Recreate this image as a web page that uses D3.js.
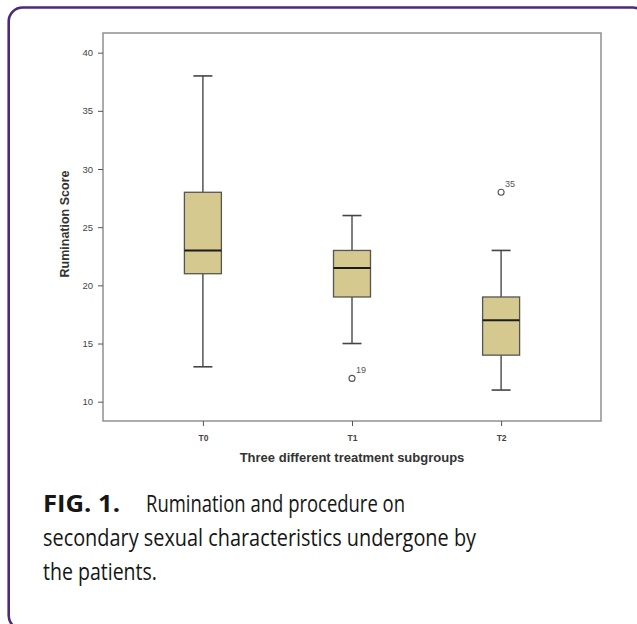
<!DOCTYPE html>
<html>
<head>
<meta charset="utf-8">
<title>Rumination box plot</title>
<script src="https://cdn.jsdelivr.net/npm/d3@7/dist/d3.min.js"></script>
<style>
  body { margin: 0; background: #fff; }
  svg { display: block; }
</style>
</head>
<body>
<script>

// data
var groups = ["T0", "T1", "T2"];
var whiskerLow = [13, 15, 11];
var q1 = [21, 19, 14];
var median = [23, 21.5, 17];
var q3 = [28, 23, 19];
var whiskerHigh = [38, 26, 23];

var outlierGroup = ["T1", "T2"];
var outlierValue = [12, 28];
var outlierLabel = ["19", "35"];

var yTicks = [10, 15, 20, 25, 30, 35, 40];

var width = 637, height = 624;
var plot = {left: 103, right: 601, top: 33, bottom: 421};

var svg = d3.select("body").append("svg")
    .attr("width", width)
    .attr("height", height);

// card frame
svg.append("rect")
    .attr("x", 8.7).attr("y", 7.5)
    .attr("width", 638).attr("height", 622)
    .attr("rx", 14)
    .attr("fill", "none")
    .attr("stroke", "#4b2a7b")
    .attr("stroke-width", 2.6);

var x = d3.scalePoint()
    .domain(groups)
    .range([plot.left, plot.right])
    .padding(0.67);

var y = d3.scaleLinear()
    .domain([8.34, 41.69])
    .range([plot.bottom, plot.top]);

var boxW = 37, capW = 19;

// plot frame
svg.append("rect")
    .attr("x", plot.left).attr("y", plot.top)
    .attr("width", plot.right - plot.left)
    .attr("height", plot.bottom - plot.top)
    .attr("fill", "#fff")
    .attr("stroke", "#8d9096")
    .attr("stroke-width", 1.5);

// axes
var yAxis = d3.axisLeft(y).tickValues(yTicks).tickSize(5).tickPadding(5);
var gy = svg.append("g")
    .attr("transform", "translate(" + plot.left + ",0)")
    .call(yAxis);
gy.select(".domain").remove();
gy.selectAll("line").attr("stroke", "#555");
gy.selectAll("text")
    .attr("fill", "#444")
    .style("font-family", "'Liberation Sans', Arial, sans-serif")
    .style("font-size", "9.5px");

var xAxis = d3.axisBottom(x).tickSize(5).tickPadding(9);
var gx = svg.append("g")
    .attr("transform", "translate(0," + plot.bottom + ")")
    .call(xAxis);
gx.select(".domain").remove();
gx.selectAll("line").attr("stroke", "#555");
gx.selectAll("text")
    .attr("fill", "#444")
    .style("font-family", "'Liberation Sans', Arial, sans-serif")
    .style("font-size", "8.5px")
    .style("font-weight", "bold");

// boxes
var idx = d3.range(groups.length);
var box = svg.append("g").selectAll("g")
    .data(idx)
    .enter().append("g");

box.append("line")
    .attr("x1", function(i){ return x(groups[i]); })
    .attr("x2", function(i){ return x(groups[i]); })
    .attr("y1", function(i){ return y(whiskerHigh[i]); })
    .attr("y2", function(i){ return y(whiskerLow[i]); })
    .attr("stroke", "#555").attr("stroke-width", 1.5);

box.selectAll(".cap")
    .data(function(i){ return [[i, whiskerLow[i]], [i, whiskerHigh[i]]]; })
    .enter().append("line")
    .attr("class", "cap")
    .attr("x1", function(d){ return x(groups[d[0]]) - capW / 2; })
    .attr("x2", function(d){ return x(groups[d[0]]) + capW / 2; })
    .attr("y1", function(d){ return y(d[1]); })
    .attr("y2", function(d){ return y(d[1]); })
    .attr("stroke", "#444").attr("stroke-width", 1.6);

box.append("rect")
    .attr("x", function(i){ return x(groups[i]) - boxW / 2; })
    .attr("y", function(i){ return y(q3[i]); })
    .attr("width", boxW)
    .attr("height", function(i){ return y(q1[i]) - y(q3[i]); })
    .attr("fill", "#d5c98f")
    .attr("stroke", "#555")
    .attr("stroke-width", 1.3);

box.append("line")
    .attr("x1", function(i){ return x(groups[i]) - boxW / 2; })
    .attr("x2", function(i){ return x(groups[i]) + boxW / 2; })
    .attr("y1", function(i){ return y(median[i]); })
    .attr("y2", function(i){ return y(median[i]); })
    .attr("stroke", "#1c1c1c").attr("stroke-width", 2);

// outliers
var out = svg.append("g").selectAll("g")
    .data(d3.range(outlierValue.length))
    .enter().append("g");

out.append("circle")
    .attr("cx", function(i){ return x(outlierGroup[i]); })
    .attr("cy", function(i){ return y(outlierValue[i]); })
    .attr("r", 3)
    .attr("fill", "#fff")
    .attr("stroke", "#555")
    .attr("stroke-width", 1.1);

out.append("text")
    .attr("x", function(i){ return x(outlierGroup[i]) + 4; })
    .attr("y", function(i){ return y(outlierValue[i]) - 5; })
    .attr("fill", "#555")
    .style("font-family", "'Liberation Sans', Arial, sans-serif")
    .style("font-size", "9px")
    .text(function(i){ return outlierLabel[i]; });

// axis titles
svg.append("text")
    .attr("x", (plot.left + plot.right) / 2)
    .attr("y", 462)
    .attr("text-anchor", "middle")
    .attr("fill", "#333")
    .style("font-family", "'Liberation Sans', Arial, sans-serif")
    .style("font-size", "13px")
    .style("font-weight", "bold")
    .text("Three different treatment subgroups");

svg.append("text")
    .attr("transform", "translate(69," + ((plot.top + plot.bottom) / 2 - 3) + ") rotate(-90)")
    .attr("text-anchor", "middle")
    .attr("fill", "#333")
    .style("font-family", "'Liberation Sans', Arial, sans-serif")
    .style("font-size", "12.5px")
    .style("font-weight", "bold")
    .text("Rumination Score");

// caption (narrow face in the original, so each line is fitted to its width)
var captionLines = [
  {t: "FIG. 1.", x: 43, y: 512, w: 77, bold: true},
  {t: "Rumination and procedure on", x: 146, y: 512, w: 259, bold: false},
  {t: "secondary sexual characteristics undergone by", x: 43, y: 546, w: 433, bold: false},
  {t: "the patients.", x: 43, y: 580, w: 114, bold: false}
];

svg.append("g").selectAll("text")
    .data(captionLines)
    .enter().append("text")
    .attr("x", function(d){ return d.x; })
    .attr("y", function(d){ return d.y; })
    .attr("textLength", function(d){ return d.w; })
    .attr("lengthAdjust", "spacingAndGlyphs")
    .attr("fill", "#161616")
    .style("font-family", "'Open Sans', sans-serif")
    .style("font-size", "23px")
    .style("font-weight", function(d){ return d.bold ? "bold" : "normal"; })
    .text(function(d){ return d.t; });

</script>
</body>
</html>
